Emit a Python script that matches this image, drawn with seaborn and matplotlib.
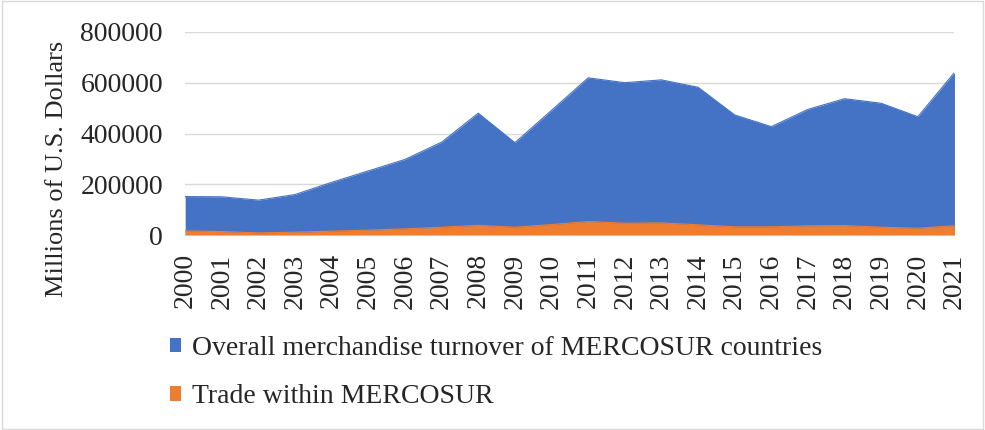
import numpy as np
import pandas as pd
import seaborn as sb
import matplotlib.pyplot as plt
from matplotlib.patches import Patch

years = list(range(2000, 2022))
overall = [152000, 151000, 138000, 160000, 208000, 253000, 298000, 366000, 480000, 364000,
           491000, 619000, 600000, 611000, 582000, 473000, 427000, 495000, 537000, 519000,
           466000, 640000]
within = [17000, 14500, 9000, 12000, 16000, 20000, 25000, 31500, 39000, 31500,
          42000, 54000, 47000, 48500, 41000, 33000, 33000, 37000, 38000, 31500,
          27500, 37000]
labels = ['Overall merchandise turnover of MERCOSUR countries', 'Trade within MERCOSUR']
colors = ['#4472C4', '#ED7D31']

df = pd.DataFrame({'year': years, labels[0]: overall, labels[1]: within})

sb.set_style('white')
plt.rcParams['font.family'] = ['Liberation Serif', 'DejaVu Serif']
fs = 20

fig = plt.figure(figsize=(9.85, 4.3), dpi=100)
ax = fig.add_axes([0.188, 0.453, 0.781, 0.473])

# * overlapping (not stacked) area series, Excel style
for name, c in zip(labels, colors):
    sb.lineplot(data=df, x='year', y=name, ax=ax, color=c, linewidth=0.8, legend=False)
    ax.fill_between(df['year'], 0, df[name], color=c, linewidth=0, zorder=2)

ax.set_xlim(2000, 2021)
ax.set_ylim(0, 800000)
ax.set_yticks(np.arange(0, 800001, 200000))
ax.set_yticklabels([str(v) for v in range(0, 800001, 200000)], fontsize=fs)
ax.set_xticks(years)
ax.set_xticklabels([str(y) for y in years], rotation=90, fontsize=fs)
ax.tick_params(axis='x', length=6, color='#BFBFBF', width=1, pad=7)
ax.tick_params(axis='y', length=0, pad=16)
ax.yaxis.grid(True, color='#D9D9D9', linewidth=1)
ax.set_axisbelow(True)
for s in ['top', 'right', 'left']:
    ax.spines[s].set_visible(False)
ax.spines['bottom'].set_color('#BFBFBF')
ax.spines['bottom'].set_zorder(3)
ax.set_xlabel('')
ax.set_ylabel('Millions of U.S. Dollars', fontsize=19)
ax.yaxis.set_label_coords(-0.152, 0.328)

handles = [Patch(facecolor=c, edgecolor='none') for c in colors]
fig.legend(handles, labels, loc='upper left', bbox_to_anchor=(0.1726, 0.219), frameon=False,
           fontsize=fs, handlelength=0.4, handleheight=0.4, handletextpad=0.4,
           labelspacing=0.85, borderaxespad=0, borderpad=0)

# * thin frame round the whole figure
fig.patches.append(plt.Rectangle((0.002, 0.003), 0.996, 0.994, transform=fig.transFigure,
                                 fill=False, edgecolor='#D9D9D9', linewidth=1))

fig.savefig('out.png', dpi=100)
